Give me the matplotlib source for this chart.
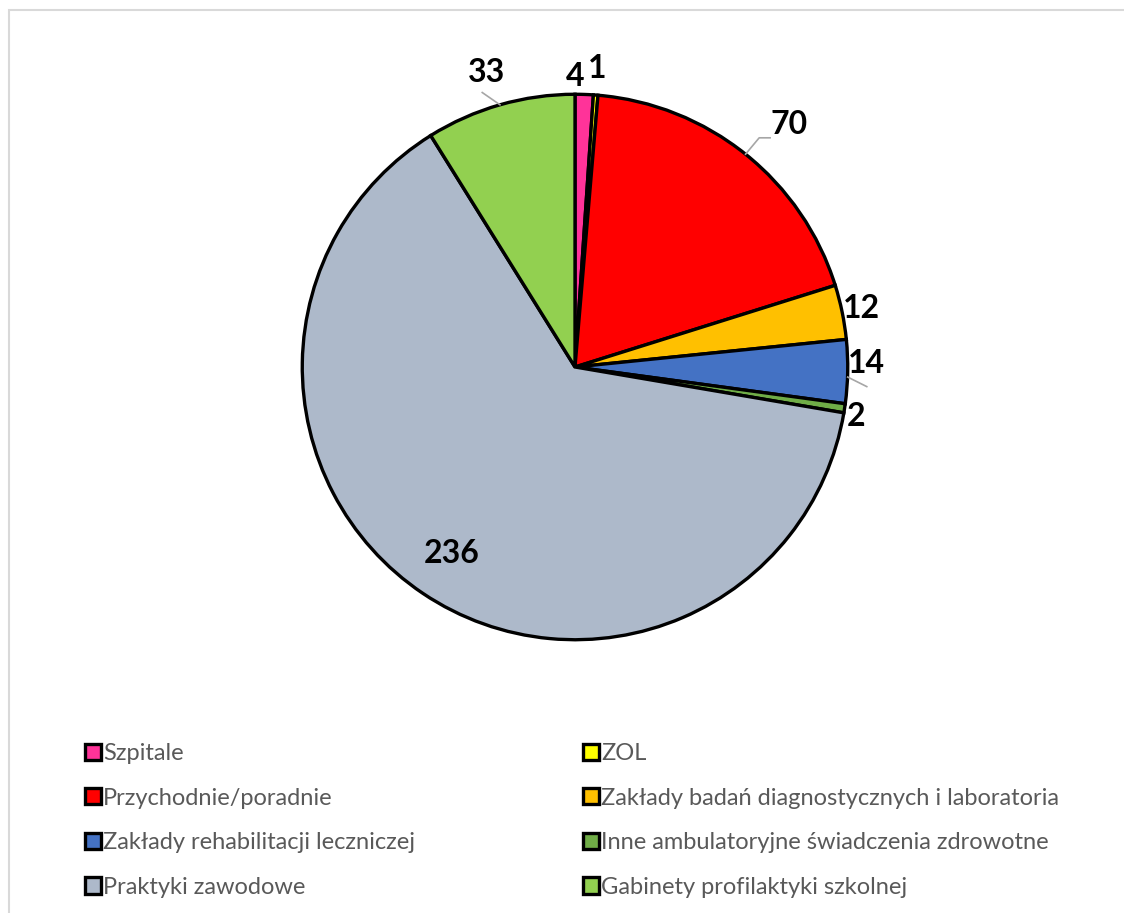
import matplotlib.pyplot as plt
import matplotlib.patches as mpatches
import numpy as np

plt.rcParams["font.family"] = ["Lato", "DejaVu Sans"]

# data
categories = [
    "Szpitale",
    "ZOL",
    "Przychodnie/poradnie",
    "Zakłady badań diagnostycznych i laboratoria",
    "Zakłady rehabilitacji leczniczej",
    "Inne ambulatoryjne świadczenia zdrowotne",
    "Praktyki zawodowe",
    "Gabinety profilaktyki szkolnej",
]
values = [4, 1, 70, 12, 14, 2, 236, 33]
colors = ["#FF3399", "#FFFF00", "#FF0000", "#FFC000",
          "#4472C4", "#70AD47", "#ADB9CA", "#92D050"]

# label placement (radius in pie units, angle nudge in degrees)
label_r = [1.08, 1.11, 1.196, 1.076, 1.07, 1.043, 0.81, 1.14]
label_nudge = [1.9, 0.1, -2.2, 0.6, 2.4, -0.6, 0.0, 0.5]
leader = [False, False, True, False, True, False, False, True]

W, H = 1124, 913
fig = plt.figure(figsize=(W / 100, H / 100), dpi=100)

# light grey chart border
fig.patches.append(mpatches.Rectangle((8.5 / W, -0.05), 1.2, 1 - 10.5 / H + 0.05,
                                      transform=fig.transFigure, fill=False,
                                      edgecolor="#d9d9d9", linewidth=1.5))

ax = fig.add_axes([(575 - 300) / W, (913 - 367 - 300) / H, 600 / W, 600 / H])
wedges, _ = ax.pie(values, colors=colors, startangle=90, counterclock=False,
                   radius=1.0,
                   wedgeprops=dict(edgecolor="black", linewidth=2.4))
ax.set_xlim(-1.1, 1.1)
ax.set_ylim(-1.1, 1.1)
ax.set_aspect("equal")
ax.axis("off")

for i, w in enumerate(wedges):
    mid = (w.theta1 + w.theta2) / 2
    a = np.deg2rad(mid + label_nudge[i])
    tx, ty = label_r[i] * np.cos(a), label_r[i] * np.sin(a) - 0.013
    ax.text(tx, ty, str(values[i]), ha="center", va="center",
            fontsize=23, fontweight="bold", color="black")
    if leader[i]:
        m = np.deg2rad(mid)
        ex, ey = np.cos(m), np.sin(m)
        if i == 2:
            xs = [ex, ex + 0.05, ex + 0.09]
            ys = [ey, ey + 0.06, ey + 0.06]
        elif i == 4:
            xs = [ex, ex + 0.07]
            ys = [ey - 0.02, ey - 0.055]
        else:
            xs = [ex, ex - 0.065]
            ys = [ey, ey + 0.045]
        ax.plot(xs, ys, color="#a6a6a6", linewidth=1.2, clip_on=False)

legend_kw = dict(loc="upper left", frameon=False, borderpad=0, borderaxespad=0,
                 fontsize=17.0, handlelength=0.68, handleheight=0.68,
                 handletextpad=0.08, labelspacing=1.0, labelcolor="#595959")
fig.legend([wedges[i] for i in (0, 2, 4, 6)], [categories[i] for i in (0, 2, 4, 6)],
           bbox_to_anchor=(85 / W, 1 - 743 / H), **legend_kw)
fig.legend([wedges[i] for i in (1, 3, 5, 7)], [categories[i] for i in (1, 3, 5, 7)],
           bbox_to_anchor=(583 / W, 1 - 743 / H), **legend_kw)

fig.savefig("out.png", dpi=100)
